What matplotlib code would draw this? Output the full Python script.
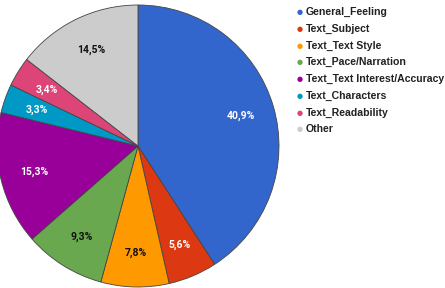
import matplotlib
matplotlib.use("Agg")
import matplotlib.pyplot as plt

categories = ["General_Feeling", "Text_Subject", "Text_Text Style", "Text_Pace/Narration",
              "Text_Text Interest/Accuracy", "Text_Characters", "Text_Readability", "Other"]
values = [40.9, 5.6, 7.8, 9.3, 15.3, 3.3, 3.4, 14.5]
colors = ["#3366cc", "#dc3912", "#ff9900", "#6aa84f", "#990099", "#0099c6", "#dd4477", "#cccccc"]
label_colors = ["white", "white", "#111111", "#111111", "white", "white", "white", "#111111"]

W, H = 445, 288
fig = plt.figure(figsize=(W / 100, H / 100), dpi=100)
cx, cy, r = 138, 146, 141
ax = fig.add_axes([(cx - r) / W, (H - cy - r) / H, 2 * r / W, 2 * r / H])

wedges, texts = ax.pie(values, colors=colors, startangle=90, counterclock=False,
                       radius=1, labels=[f"{v:.1f}%".replace(".", ",") for v in values],
                       labeldistance=0.76,
                       wedgeprops=dict(edgecolor="#444444", linewidth=0.6),
                       textprops=dict(fontsize=7.5, fontweight="bold", family="Roboto"))
for t, c in zip(texts, label_colors):
    t.set_color(c)
    t.set_ha("center")
    t.set_va("center")
ax.set_xlim(-1, 1)
ax.set_ylim(-1, 1)
ax.set_aspect("equal")
ax.axis("off")

# Legend
y0, dy = 12.3, 16.7
for i, (cat, col) in enumerate(zip(categories, colors)):
    y = y0 + i * dy
    fig.text(300 / W, 1 - y / H, "\u25cf", color=col, fontsize=5, ha="center", va="center")
    fig.text(306 / W, 1 - y / H, cat, color="#222222", fontsize=7.6, ha="left", va="center",
             family="Liberation Sans", fontweight="bold")

fig.savefig("out.png", dpi=100)
